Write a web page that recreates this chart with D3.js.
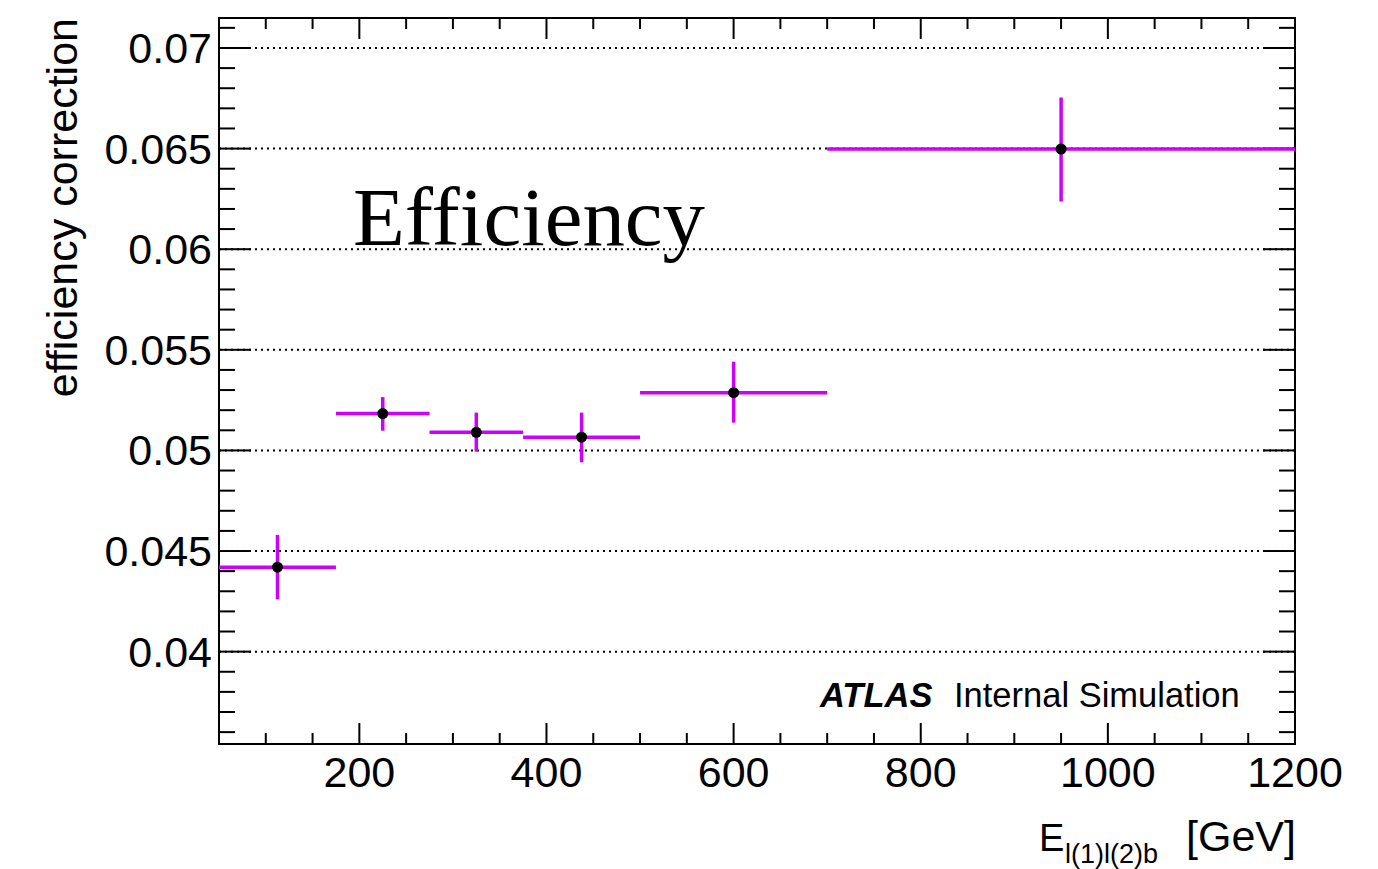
<!DOCTYPE html>
<html>
<head>
<meta charset="utf-8">
<script src="https://cdn.jsdelivr.net/npm/d3@7"></script>
<style>
  html, body { margin: 0; padding: 0; background: #fff; }
  svg { display: block; }
</style>
</head>
<body>
<svg id="chart" width="1378" height="869"></svg>
<script>
// ---- data ----
const binLow   = [50, 175, 275, 375, 500, 700];
const binHigh  = [175, 275, 375, 500, 700, 1200];
const binCenter = [112.5, 225, 325, 437.5, 600, 950];
const effValue = [0.0442, 0.05183, 0.0509, 0.05066, 0.05287, 0.06498];
const errUp    = [0.0016, 0.00082, 0.00098, 0.00122, 0.00154, 0.00256];
const errDown  = [0.0016, 0.00085, 0.00096, 0.00125, 0.00149, 0.00261];
const xTickLabels = [200, 400, 600, 800, 1000, 1200];
const yTickLabels = [0.04, 0.045, 0.05, 0.055, 0.06, 0.065, 0.07];

const SANS = "'Liberation Sans', Arial, Helvetica, sans-serif";
const SERIF = "'Liberation Serif', 'DejaVu Serif', serif";

const svg = d3.select("#chart");
const L = 219, R = 1295, T = 18, B = 744;

const x = d3.scaleLinear().domain([50, 1200]).range([L, R]);
const y = d3.scaleLinear().domain([0.03541, 0.07149]).range([B, T]);

// grid (dotted)
svg.append("g").selectAll("line").data(yTickLabels).join("line")
  .attr("x1", L).attr("x2", R)
  .attr("y1", d => y(d)).attr("y2", d => y(d))
  .attr("stroke", "#000").attr("stroke-width", 2)
  .attr("stroke-dasharray", "2,4");

// ticks
const xMinor = d3.range(100, 1200, 50).filter(v => v % 200 !== 0);
const yMinor = d3.range(36, 72, 1).map(v => v / 1000).filter(v => Math.round(v * 1000) % 5 !== 0);

const tickG = svg.append("g").attr("stroke", "#000").attr("stroke-width", 2);
xTickLabels.forEach(v => {
  tickG.append("line").attr("x1", x(v)).attr("x2", x(v)).attr("y1", B).attr("y2", B - 21);
  tickG.append("line").attr("x1", x(v)).attr("x2", x(v)).attr("y1", T).attr("y2", T + 21);
});
xMinor.forEach(v => {
  tickG.append("line").attr("x1", x(v)).attr("x2", x(v)).attr("y1", B).attr("y2", B - 11);
  tickG.append("line").attr("x1", x(v)).attr("x2", x(v)).attr("y1", T).attr("y2", T + 11);
});
yTickLabels.forEach(v => {
  tickG.append("line").attr("x1", L).attr("x2", L + 32).attr("y1", y(v)).attr("y2", y(v));
  tickG.append("line").attr("x1", R).attr("x2", R - 32).attr("y1", y(v)).attr("y2", y(v));
});
yMinor.forEach(v => {
  tickG.append("line").attr("x1", L).attr("x2", L + 16).attr("y1", y(v)).attr("y2", y(v));
  tickG.append("line").attr("x1", R).attr("x2", R - 16).attr("y1", y(v)).attr("y2", y(v));
});

// frame
svg.append("rect").attr("x", L).attr("y", T).attr("width", R - L).attr("height", B - T)
  .attr("fill", "none").attr("stroke", "#000").attr("stroke-width", 2);

// tick labels
svg.append("g").selectAll("text").data(xTickLabels).join("text")
  .attr("x", d => x(d)).attr("y", 787)
  .attr("text-anchor", "middle").style("font-family", SANS).style("font-size", "43px")
  .text(d => d);
svg.append("g").selectAll("text").data(yTickLabels).join("text")
  .attr("x", 212).attr("y", d => y(d) + 15)
  .attr("text-anchor", "end").style("font-family", SANS).style("font-size", "43px")
  .text(d => String(d));

// axis titles
svg.append("text")
  .attr("transform", "translate(77," + T + ") rotate(-90)")
  .attr("text-anchor", "end").style("font-family", SANS).style("font-size", "43px")
  .text("efficiency correction");

svg.append("text").attr("x", 1039).attr("y", 851).style("font-family", SANS).style("font-size", "38px").text("E");
svg.append("text").attr("x", 1065).attr("y", 863).style("font-family", SANS).style("font-size", "27px").text("l(1)l(2)b");
svg.append("text").attr("x", 1296).attr("y", 851).attr("text-anchor", "end").style("font-family", SANS).style("font-size", "43px").text("[GeV]");

// data: error bars
const pts = binCenter.map((c, i) => ({c, lo: binLow[i], hi: binHigh[i], v: effValue[i], up: errUp[i], dn: errDown[i]}));
const eg = svg.append("g").attr("stroke", "#cc00ff").attr("stroke-width", 3.5);
eg.selectAll("line.h").data(pts).join("line").attr("class", "h")
  .attr("x1", d => x(d.lo)).attr("x2", d => x(d.hi))
  .attr("y1", d => y(d.v)).attr("y2", d => y(d.v));
eg.selectAll("line.v").data(pts).join("line").attr("class", "v")
  .attr("x1", d => x(d.c)).attr("x2", d => x(d.c))
  .attr("y1", d => y(d.v + d.up)).attr("y2", d => y(d.v - d.dn));
svg.append("g").selectAll("circle").data(pts).join("circle")
  .attr("cx", d => x(d.c)).attr("cy", d => y(d.v)).attr("r", 5.5).attr("fill", "#000");

// labels
svg.append("text").attr("x", 353).attr("y", 245)
  .style("font-family", SERIF)
  .style("font-size", "83px").attr("textLength", 352).attr("lengthAdjust", "spacingAndGlyphs")
  .text("Efficiency");

svg.append("text").attr("x", 820).attr("y", 707)
  .style("font-family", SANS).style("font-size", "34.5px").style("font-weight", "bold").style("font-style", "italic")
  .text("ATLAS");
svg.append("text").attr("x", 954).attr("y", 707)
  .style("font-family", SANS).style("font-size", "34.5px")
  .text("Internal Simulation");
</script>
</body>
</html>
